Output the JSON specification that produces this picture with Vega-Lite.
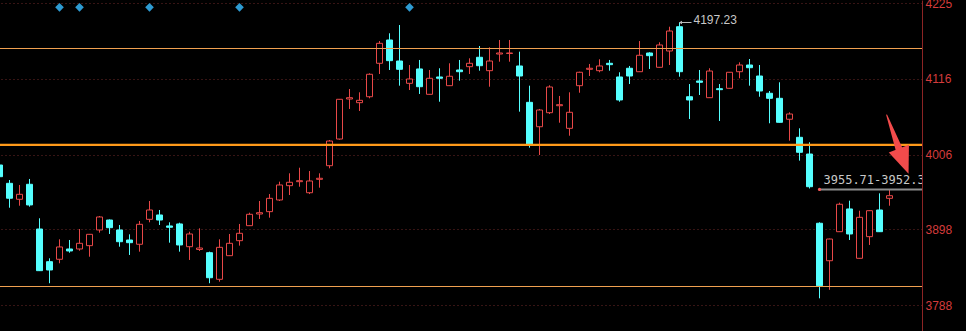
{
  "$schema": "https://vega.github.io/schema/vega-lite/v6.json",
  "width": 922,
  "height": 331,
  "autosize": {"type": "none"},
  "padding": {"left": 0, "top": 0, "right": 44, "bottom": 0},
  "background": "#000000",
  "config": {
    "view": {"stroke": null},
    "axisY": {
      "ticks": false, "labelPadding": 3, "labelOverlap": false,
      "labelColor": "#d43c3c", "labelFont": "Liberation Sans", "labelFontSize": 12,
      "domain": true, "domainColor": "#8c2424", "domainWidth": 1,
      "grid": true, "gridColor": "#6e2828", "gridDash": [1, 3], "gridWidth": 1
    }
  },
  "datasets": {
    "candles": [
      {"i": 0, "open": 3991.0, "high": 3993.5, "low": 3972.0, "close": 3974.1},
      {"i": 1, "open": 3964.5, "high": 3969.3, "low": 3929.2, "close": 3942.9},
      {"i": 2, "open": 3941.4, "high": 3962.1, "low": 3932.1, "close": 3948.6},
      {"i": 3, "open": 3963.1, "high": 3970.8, "low": 3930.7, "close": 3933.2},
      {"i": 4, "open": 3898.4, "high": 3913.9, "low": 3837.6, "close": 3838.1},
      {"i": 5, "open": 3851.1, "high": 3856.0, "low": 3819.9, "close": 3839.1},
      {"i": 6, "open": 3854.6, "high": 3883.5, "low": 3848.8, "close": 3872.4},
      {"i": 7, "open": 3869.5, "high": 3882.5, "low": 3864.1, "close": 3866.6},
      {"i": 8, "open": 3869.5, "high": 3898.4, "low": 3867.0, "close": 3877.7},
      {"i": 9, "open": 3874.3, "high": 3891.2, "low": 3858.3, "close": 3890.7},
      {"i": 10, "open": 3897.0, "high": 3917.2, "low": 3893.1, "close": 3915.8},
      {"i": 11, "open": 3911.4, "high": 3912.2, "low": 3891.2, "close": 3900.3},
      {"i": 12, "open": 3897.0, "high": 3904.2, "low": 3872.8, "close": 3880.0},
      {"i": 13, "open": 3882.5, "high": 3890.7, "low": 3860.8, "close": 3878.6},
      {"i": 14, "open": 3876.3, "high": 3910.0, "low": 3865.6, "close": 3905.2},
      {"i": 15, "open": 3912.4, "high": 3938.9, "low": 3908.1, "close": 3925.9},
      {"i": 16, "open": 3918.7, "high": 3925.9, "low": 3904.2, "close": 3911.4},
      {"i": 17, "open": 3902.8, "high": 3908.1, "low": 3878.6, "close": 3900.9},
      {"i": 18, "open": 3905.7, "high": 3907.5, "low": 3865.6, "close": 3875.3},
      {"i": 19, "open": 3872.8, "high": 3894.5, "low": 3853.6, "close": 3891.2},
      {"i": 20, "open": 3868.8, "high": 3899.4, "low": 3866.6, "close": 3870.9},
      {"i": 21, "open": 3864.1, "high": 3865.6, "low": 3819.9, "close": 3827.9},
      {"i": 22, "open": 3825.6, "high": 3883.5, "low": 3822.2, "close": 3871.9},
      {"i": 23, "open": 3859.8, "high": 3891.2, "low": 3859.4, "close": 3877.7},
      {"i": 24, "open": 3881.5, "high": 3905.7, "low": 3874.3, "close": 3892.2},
      {"i": 25, "open": 3903.2, "high": 3922.0, "low": 3902.8, "close": 3919.7},
      {"i": 26, "open": 3920.1, "high": 3938.9, "low": 3912.9, "close": 3922.0},
      {"i": 27, "open": 3923.5, "high": 3949.0, "low": 3914.8, "close": 3942.8},
      {"i": 28, "open": 3940.4, "high": 3966.9, "low": 3938.9, "close": 3962.1},
      {"i": 29, "open": 3961.1, "high": 3979.0, "low": 3947.6, "close": 3966.0},
      {"i": 30, "open": 3966.9, "high": 3987.1, "low": 3959.6, "close": 3968.3},
      {"i": 31, "open": 3950.9, "high": 3982.3, "low": 3949.0, "close": 3967.9},
      {"i": 32, "open": 3970.3, "high": 3979.0, "low": 3958.2, "close": 3971.8},
      {"i": 33, "open": 3990.0, "high": 4027.2, "low": 3986.2, "close": 4025.7},
      {"i": 34, "open": 4028.6, "high": 4086.5, "low": 4027.6, "close": 4086.1},
      {"i": 35, "open": 4086.5, "high": 4101.0, "low": 4072.1, "close": 4088.4},
      {"i": 36, "open": 4081.2, "high": 4096.2, "low": 4069.2, "close": 4084.6},
      {"i": 37, "open": 4089.8, "high": 4123.7, "low": 4087.5, "close": 4122.3},
      {"i": 38, "open": 4138.2, "high": 4170.4, "low": 4122.7, "close": 4167.1},
      {"i": 39, "open": 4171.9, "high": 4181.6, "low": 4128.5, "close": 4142.0},
      {"i": 40, "open": 4141.5, "high": 4193.6, "low": 4105.8, "close": 4129.5},
      {"i": 41, "open": 4109.2, "high": 4135.7, "low": 4099.5, "close": 4115.5},
      {"i": 42, "open": 4130.0, "high": 4143.0, "low": 4093.8, "close": 4104.3},
      {"i": 43, "open": 4093.3, "high": 4128.5, "low": 4093.0, "close": 4116.5},
      {"i": 44, "open": 4118.4, "high": 4131.0, "low": 4082.6, "close": 4116.5},
      {"i": 45, "open": 4105.8, "high": 4138.2, "low": 4105.3, "close": 4119.4},
      {"i": 46, "open": 4128.5, "high": 4143.0, "low": 4113.0, "close": 4126.0},
      {"i": 47, "open": 4133.3, "high": 4145.4, "low": 4122.7, "close": 4138.2},
      {"i": 48, "open": 4146.9, "high": 4163.2, "low": 4127.5, "close": 4134.7},
      {"i": 49, "open": 4127.5, "high": 4161.3, "low": 4104.3, "close": 4141.5},
      {"i": 50, "open": 4151.6, "high": 4171.9, "low": 4140.5, "close": 4153.1},
      {"i": 51, "open": 4152.4, "high": 4171.9, "low": 4140.5, "close": 4153.1},
      {"i": 52, "open": 4134.3, "high": 4155.0, "low": 4068.2, "close": 4119.8},
      {"i": 53, "open": 4081.7, "high": 4105.8, "low": 4016.1, "close": 4021.4},
      {"i": 54, "open": 4046.4, "high": 4072.1, "low": 4005.5, "close": 4070.6},
      {"i": 55, "open": 4066.7, "high": 4106.4, "low": 4064.8, "close": 4103.9},
      {"i": 56, "open": 4076.8, "high": 4090.9, "low": 4052.2, "close": 4078.3},
      {"i": 57, "open": 4044.1, "high": 4096.2, "low": 4033.4, "close": 4067.3},
      {"i": 58, "open": 4105.8, "high": 4126.0, "low": 4095.6, "close": 4125.2},
      {"i": 59, "open": 4129.5, "high": 4137.2, "low": 4119.8, "close": 4131.0},
      {"i": 60, "open": 4127.5, "high": 4144.0, "low": 4125.2, "close": 4134.3},
      {"i": 61, "open": 4138.2, "high": 4143.0, "low": 4127.5, "close": 4136.2},
      {"i": 62, "open": 4118.4, "high": 4125.2, "low": 4082.6, "close": 4085.1},
      {"i": 63, "open": 4131.0, "high": 4134.3, "low": 4108.2, "close": 4119.8},
      {"i": 64, "open": 4126.0, "high": 4170.4, "low": 4125.6, "close": 4149.8},
      {"i": 65, "open": 4153.1, "high": 4154.1, "low": 4130.0, "close": 4149.2},
      {"i": 66, "open": 4132.4, "high": 4168.6, "low": 4132.1, "close": 4164.7},
      {"i": 67, "open": 4156.0, "high": 4191.1, "low": 4135.7, "close": 4184.9},
      {"i": 68, "open": 4191.1, "high": 4197.23, "low": 4118.8, "close": 4126.0},
      {"i": 69, "open": 4089.8, "high": 4108.2, "low": 4057.6, "close": 4085.1},
      {"i": 70, "open": 4112.6, "high": 4128.5, "low": 4092.3, "close": 4110.7},
      {"i": 71, "open": 4088.4, "high": 4131.0, "low": 4088.0, "close": 4127.0},
      {"i": 72, "open": 4101.4, "high": 4108.2, "low": 4054.7, "close": 4100.0},
      {"i": 73, "open": 4102.0, "high": 4125.6, "low": 4101.7, "close": 4125.2},
      {"i": 74, "open": 4126.0, "high": 4139.6, "low": 4116.5, "close": 4135.7},
      {"i": 75, "open": 4135.7, "high": 4144.4, "low": 4105.8, "close": 4131.8},
      {"i": 76, "open": 4119.8, "high": 4135.7, "low": 4089.8, "close": 4098.1},
      {"i": 77, "open": 4094.8, "high": 4098.1, "low": 4051.4, "close": 4087.5},
      {"i": 78, "open": 4087.5, "high": 4110.7, "low": 4052.5, "close": 4052.8},
      {"i": 79, "open": 4057.2, "high": 4067.3, "low": 4026.2, "close": 4064.8},
      {"i": 80, "open": 4031.1, "high": 4044.1, "low": 3997.3, "close": 4009.4},
      {"i": 81, "open": 4006.9, "high": 4023.9, "low": 3957.0, "close": 3959.6},
      {"i": 82, "open": 3906.7, "high": 3908.1, "low": 3798.1, "close": 3816.4},
      {"i": 83, "open": 3852.5, "high": 3884.4, "low": 3810.4, "close": 3883.9},
      {"i": 84, "open": 3894.5, "high": 3936.5, "low": 3894.1, "close": 3934.2},
      {"i": 85, "open": 3927.4, "high": 3939.4, "low": 3882.5, "close": 3891.2},
      {"i": 86, "open": 3856.0, "high": 3924.9, "low": 3855.7, "close": 3915.3},
      {"i": 87, "open": 3887.3, "high": 3925.2, "low": 3875.3, "close": 3924.9},
      {"i": 88, "open": 3925.9, "high": 3950.0, "low": 3894.1, "close": 3894.5},
      {"i": 89, "open": 3942.8, "high": 3954.9, "low": 3932.1, "close": 3946.6}
    ],
    "signals": [
      {"i": 6, "price": 4219.2},
      {"i": 8, "price": 4219.2},
      {"i": 15, "price": 4219.2},
      {"i": 24, "price": 4219.2},
      {"i": 41, "price": 4219.2}
    ],
    "thinLevels": [{"level": 4159.6}, {"level": 3815.2}],
    "thickLevels": [{"level": 4020.0}],
    "peak": [{"i": 68, "end": 69.2, "value": 4197.23, "label": "4197.23"}],
    "gap": [{"i": 82, "end": 93, "value": 3955.71, "label": "3955.71-3952.37"}],
    "arrowShaft": [
      {"i": 88.72, "price": 4063.4, "step": 0},
      {"i": 89.95, "price": 4014.2, "step": 1}
    ],
    "arrowHead": [{"i": 90.42, "price": 3996.5}]
  },
  "layer": [
    {
      "data": {"name": "thinLevels"},
      "mark": {"type": "rule", "color": "#f0a050", "strokeWidth": 0},
      "encoding": {
        "y": {
          "field": "level", "type": "quantitative",
          "scale": {"domain": [3750.8, 4229.78], "nice": false, "zero": false},
          "axis": {"orient": "right", "title": null, "values": [3788, 3898, 4006, 4116, 4225], "format": ".0f"}
        }
      }
    },
    {
      "data": {"name": "candles"},
      "mark": {"type": "rule", "strokeWidth": 1},
      "encoding": {
        "x": {"field": "i", "type": "quantitative", "scale": {"domain": [0.05, 92.25], "nice": false, "zero": false, "padding": 0}, "axis": null},
        "y": {"field": "low", "type": "quantitative", "axis": {"orient": "right", "title": null, "values": [3788, 3898, 4006, 4116, 4225], "format": ".0f"}},
        "y2": {"field": "high"},
        "color": {"condition": {"test": "datum.close >= datum.open", "value": "#e84848"}, "value": "#55ffff"}
      }
    },
    {
      "data": {"name": "candles"},
      "mark": {"type": "bar", "size": 6, "strokeWidth": 1},
      "encoding": {
        "x": {"field": "i", "type": "quantitative", "axis": null},
        "y": {"field": "open", "type": "quantitative", "axis": {"orient": "right", "title": null, "values": [3788, 3898, 4006, 4116, 4225], "format": ".0f"}},
        "y2": {"field": "close"},
        "fill": {"condition": {"test": "datum.close >= datum.open", "value": "#000000"}, "value": "#55ffff"},
        "stroke": {"condition": {"test": "datum.close >= datum.open", "value": "#e84848"}, "value": "#55ffff"}
      }
    },
    {
      "data": {"name": "thinLevels"},
      "mark": {"type": "rule", "color": "#f0a050", "strokeWidth": 1.2},
      "encoding": {"y": {"field": "level", "type": "quantitative", "axis": {"orient": "right", "title": null, "values": [3788, 3898, 4006, 4116, 4225], "format": ".0f"}}}
    },
    {
      "data": {"name": "thickLevels"},
      "mark": {"type": "rule", "color": "#ff9a1a", "strokeWidth": 2.2},
      "encoding": {"y": {"field": "level", "type": "quantitative", "axis": {"orient": "right", "title": null, "values": [3788, 3898, 4006, 4116, 4225], "format": ".0f"}}}
    },
    {
      "data": {"name": "signals"},
      "mark": {"type": "point", "shape": "diamond", "filled": true, "size": 75, "color": "#2e9bd2", "opacity": 1},
      "encoding": {
        "x": {"field": "i", "type": "quantitative", "axis": null},
        "y": {"field": "price", "type": "quantitative", "axis": {"orient": "right", "title": null, "values": [3788, 3898, 4006, 4116, 4225], "format": ".0f"}}
      }
    },
    {
      "data": {"name": "peak"},
      "mark": {"type": "rule", "color": "#bdbdbd", "strokeWidth": 1},
      "encoding": {
        "x": {"field": "i", "type": "quantitative", "axis": null},
        "x2": {"field": "end"},
        "y": {"field": "value", "type": "quantitative", "axis": {"orient": "right", "title": null, "values": [3788, 3898, 4006, 4116, 4225], "format": ".0f"}}
      }
    },
    {
      "data": {"name": "peak"},
      "mark": {"type": "point", "shape": "triangle-left", "filled": true, "size": 12, "color": "#bdbdbd", "opacity": 1, "xOffset": 1},
      "encoding": {
        "x": {"field": "i", "type": "quantitative", "axis": null},
        "y": {"field": "value", "type": "quantitative", "axis": {"orient": "right", "title": null, "values": [3788, 3898, 4006, 4116, 4225], "format": ".0f"}}
      }
    },
    {
      "data": {"name": "peak"},
      "mark": {"type": "text", "align": "left", "baseline": "middle", "dx": 14, "dy": -2, "font": "Liberation Sans", "fontSize": 12, "color": "#c8c8c8"},
      "encoding": {
        "x": {"field": "i", "type": "quantitative", "axis": null},
        "y": {"field": "value", "type": "quantitative", "axis": {"orient": "right", "title": null, "values": [3788, 3898, 4006, 4116, 4225], "format": ".0f"}},
        "text": {"field": "label"}
      }
    },
    {
      "data": {"name": "gap"},
      "mark": {"type": "rule", "color": "#8c8c8c", "strokeWidth": 2, "clip": true},
      "encoding": {
        "x": {"field": "i", "type": "quantitative", "axis": null},
        "x2": {"field": "end"},
        "y": {"field": "value", "type": "quantitative", "axis": {"orient": "right", "title": null, "values": [3788, 3898, 4006, 4116, 4225], "format": ".0f"}}
      }
    },
    {
      "data": {"name": "gap"},
      "mark": {"type": "point", "shape": "circle", "filled": true, "size": 10, "color": "#ff5a5a", "opacity": 1},
      "encoding": {
        "x": {"field": "i", "type": "quantitative", "axis": null},
        "y": {"field": "value", "type": "quantitative", "axis": {"orient": "right", "title": null, "values": [3788, 3898, 4006, 4116, 4225], "format": ".0f"}}
      }
    },
    {
      "data": {"name": "gap"},
      "mark": {"type": "text", "align": "left", "baseline": "alphabetic", "dx": 4, "dy": -5, "font": "DejaVu Sans Mono", "fontSize": 12, "color": "#c8c8c8", "clip": true},
      "encoding": {
        "x": {"field": "i", "type": "quantitative", "axis": null},
        "y": {"field": "value", "type": "quantitative", "axis": {"orient": "right", "title": null, "values": [3788, 3898, 4006, 4116, 4225], "format": ".0f"}},
        "text": {"field": "label"}
      }
    },
    {
      "data": {"name": "arrowShaft"},
      "mark": {"type": "trail", "color": "#f24b4b"},
      "encoding": {
        "x": {"field": "i", "type": "quantitative", "axis": null},
        "y": {"field": "price", "type": "quantitative", "axis": {"orient": "right", "title": null, "values": [3788, 3898, 4006, 4116, 4225], "format": ".0f"}},
        "size": {"field": "step", "type": "quantitative", "scale": {"range": [1, 7]}, "legend": null}
      }
    },
    {
      "data": {"name": "arrowHead"},
      "mark": {"type": "point", "shape": "M-0.8,-1L0.8,-1L0,1Z", "filled": true, "size": 729, "angle": 339, "color": "#f24b4b", "opacity": 1},
      "encoding": {
        "x": {"field": "i", "type": "quantitative", "axis": null},
        "y": {"field": "price", "type": "quantitative", "axis": {"orient": "right", "title": null, "values": [3788, 3898, 4006, 4116, 4225], "format": ".0f"}}
      }
    }
  ]
}
